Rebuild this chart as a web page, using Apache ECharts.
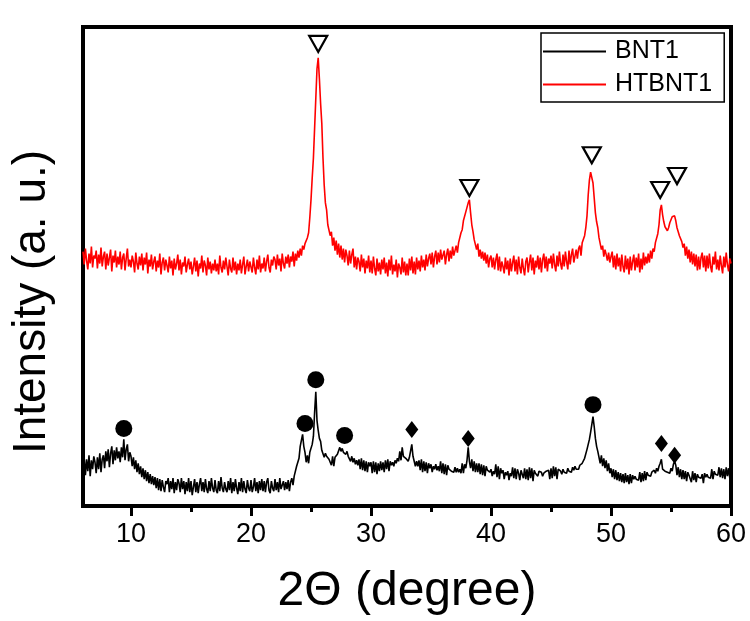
<!DOCTYPE html>
<html><head><meta charset="utf-8">
<script src="https://cdn.jsdelivr.net/npm/echarts@6/dist/echarts.min.js"></script>
<style>html,body{margin:0;padding:0;background:#fff}#c{width:750px;height:621px}</style>
</head><body><div id="c"></div>
<script>
// 2-theta sampling grid of the patterns
const angleStart = 6;
const angleStep = 0.1;

// HTBNT1 intensity (a.u.), one row per degree (6.0 ... 59.9), then 60.0
const htbnt1 = [
256,243,259,247,238,254,244,261,240,252,
249,257,239,253,244,260,241,251,256,238,
254,242,250,258,236,252,245,257,240,251,
243,256,238,250,254,237,249,259,241,248,
240,252,246,235,255,244,238,251,242,254,
237,250,243,255,234,248,241,253,238,246,
251,236,247,240,254,233,245,250,237,248,
242,235,251,239,247,232,249,238,244,253,
237,248,233,245,241,251,235,243,249,238,
246,233,241,250,236,247,231,244,239,252,
235,247,242,232,250,238,246,234,244,237,
248,236,244,233,252,240,235,247,238,250,
241,232,248,239,235,250,237,246,233,244,
237,248,234,243,251,233,241,248,236,246,
246,235,250,240,233,248,238,252,235,244,
239,250,236,246,253,240,235,248,242,251,
248,238,253,242,249,236,254,244,239,251,
244,253,240,251,246,256,241,254,247,257,
250,259,252,262,258,264,263,270,275,290,
308,330,350,380,410,440,451,430,405,385,
350,323,305,298,283,284,272,276,262,270,
257,267,253,264,250,262,248,259,245,258,
252,242,257,244,253,259,240,251,238,250,
246,236,253,240,249,234,247,239,252,235,
247,234,251,239,232,249,236,245,233,248,
238,250,234,245,231,248,237,252,233,243,
236,248,230,244,240,233,250,235,246,232,
244,232,249,237,251,234,246,233,250,238,
247,236,252,240,248,237,253,241,249,254,
243,255,240,251,257,243,255,245,258,248,
247,257,243,253,259,246,257,249,261,252,
254,262,255,265,266,275,278,287,288,296,
298,305,308,295,283,276,268,266,258,264,
251,258,249,256,247,255,244,253,240,249,
252,240,250,238,248,254,237,251,236,246,
241,234,250,238,247,232,249,236,245,252,
236,248,233,251,240,234,249,239,232,246,
250,235,245,253,237,250,233,247,240,252,
238,250,235,248,254,239,251,236,249,244,
252,239,254,243,236,252,241,256,244,238,
253,241,256,246,238,257,243,253,259,245,
246,258,249,259,262,252,265,264,272,280,
292,313,328,336,338,325,310,295,286,280,
270,268,258,262,251,258,253,247,255,245,
251,256,240,252,238,254,241,250,236,253,
241,235,252,238,249,233,251,237,246,253,
237,250,240,254,235,249,238,255,242,251,
244,254,245,257,249,259,256,265,264,274,
283,298,303,293,286,281,279,277,280,285,
288,291,293,292,287,280,276,272,270,266,
260,264,252,261,249,258,245,256,243,254,
241,253,237,251,238,250,255,240,252,236,
252,239,254,241,235,251,243,256,238,248,
237,252,242,234,251,240,255,243,236,249,
244
];

// BNT1 intensity (a.u.), same grid
const bnt1 = [
38,48,31,47,35,51,30,46,37,50,
44,33,49,37,53,34,47,51,38,55,
45,57,39,53,60,42,56,46,59,48,
55,44,59,49,67,46,57,62,45,54,
50,40,49,37,46,34,43,32,40,29,
38,27,36,25,34,23,32,22,30,21,
29,18,28,16,27,15,26,19,14,25,
22,28,14,25,17,28,13,24,16,27,
23,14,28,17,25,12,24,15,28,14,
25,11,19,27,14,24,13,22,28,15,
24,14,27,17,13,25,15,28,18,14,
26,16,13,25,15,29,18,14,24,17,
14,25,16,28,13,24,15,27,18,12,
24,15,28,14,25,17,13,26,18,15,
26,14,19,28,15,24,13,25,16,27,
15,25,14,24,28,16,13,25,18,15,
27,16,24,14,28,17,15,25,16,24,
17,26,15,24,28,21,30,32,40,44,
48,60,62,72,60,54,44,51,43,54,
53,62,70,94,115,86,76,68,65,56,
58,49,53,50,51,47,49,41,50,40,
49,47,52,51,59,55,58,54,56,52,
55,50,52,45,50,44,48,42,46,41,
47,37,48,36,46,35,45,34,44,40,
44,33,45,34,44,32,43,35,45,36,
44,34,46,37,47,35,45,41,44,40,
46,43,48,45,55,46,59,50,52,48,
50,45,49,47,62,50,49,40,45,40,
46,36,47,34,45,35,44,33,43,38,
42,34,40,37,42,36,40,35,45,33,
43,32,42,31,41,37,39,35,37,34,
39,34,38,34,37,33,43,33,42,38,
46,59,45,38,47,35,45,34,43,34,
43,32,42,31,41,30,40,36,38,34,
37,30,35,32,42,29,40,27,38,33,
36,27,34,31,35,26,33,30,39,28,
38,27,37,33,26,36,32,28,38,27,
37,26,39,28,38,25,36,33,34,30,
35,33,34,30,33,31,35,34,36,27,
38,28,40,30,39,27,37,35,35,32,
37,34,36,33,38,35,37,34,39,36,
40,37,39,37,41,39,43,42,48,50,
57,62,67,74,82,90,80,68,60,55,
53,43,51,40,48,38,46,35,43,33,
38,29,37,27,36,26,34,25,33,24,
32,23,33,24,31,22,32,23,31,27,
30,27,29,26,34,24,33,25,35,26,
34,31,33,30,34,32,36,33,38,35,
40,43,47,37,39,35,37,34,36,33,
38,35,42,45,41,31,39,29,37,27,
36,27,35,25,34,31,33,24,35,26,
33,24,32,29,31,28,32,23,33,29,
32,29,31,28,37,27,35,32,34,31,
39,29,38,28,37,27,39,30,38,28,
32
];

// Phase markers (position in 2θ, height in a.u.)
const anataseX = [25.6, 38.2, 48.4, 54.1, 55.5];
const anataseY = [465, 320, 353, 318, 332];
const circleX = [9.4, 24.5, 25.4, 27.8, 48.5];
const circleY = [78, 83, 127, 71, 102];
const diamondX = [33.4, 38.1, 54.2, 55.3];
const diamondY = [77, 68, 63, 51];

const xTicks = [10, 20, 30, 40, 50, 60];
const xMinorTicks = [15, 25, 35, 45, 55];
const seriesNames = ['BNT1', 'HTBNT1'];
const xTitle = '2\u0398 (degree)';
const yTitle = 'Intensity (a. u.)';

const FONT = "'Liberation Sans', Arial, sans-serif";
const toPairs = arr => arr.map((v, i) => [+(angleStart + i * angleStep).toFixed(1), v]);
const zipXY = (xs, ys) => xs.map((x, i) => [x, ys[i]]);

const chart = echarts.init(document.getElementById('c'), null, {renderer: 'canvas'});
chart.setOption({
  animation: false,
  backgroundColor: '#fff',
  grid: {left: 83, right: 19, top: 27, bottom: 112, show: true, borderColor: '#000', borderWidth: 4, backgroundColor: 'transparent'},
  legend: {
    data: seriesNames, orient: 'vertical', left: 541, top: 33,
    icon: 'rect', itemWidth: 63, itemHeight: 2, itemGap: 8, padding: [6, 12, 5, 2],
    borderColor: '#000', borderWidth: 1.5,
    textStyle: {fontFamily: FONT, fontSize: 25, color: '#000', padding: [0, 0, 0, 4]}
  },
  graphic: [{
    type: 'text', x: 32, y: 302, rotation: Math.PI / 2,
    style: {text: yTitle, font: '46px ' + FONT, fill: '#000', align: 'center', verticalAlign: 'middle',
            textAlign: 'center', textVerticalAlign: 'middle'}
  }],
  xAxis: [{
    type: 'value', min: 6, max: 60,
    name: xTitle, nameLocation: 'middle', nameGap: 62,
    nameTextStyle: {fontFamily: FONT, fontSize: 48, color: '#000'},
    axisLine: {show: true, lineStyle: {color: '#000', width: 4}},
    axisTick: {show: true, customValues: xTicks, length: 10, lineStyle: {color: '#000', width: 3}},
    axisLabel: {customValues: xTicks, fontFamily: FONT, fontSize: 27, color: '#000', margin: 15},
    splitLine: {show: false}
  }, {
    type: 'value', min: 6, max: 60, position: 'bottom',
    axisLine: {show: false},
    axisTick: {show: true, customValues: xMinorTicks, length: 6, lineStyle: {color: '#000', width: 3}},
    axisLabel: {show: false},
    splitLine: {show: false}
  }],
  yAxis: {
    type: 'value', min: 0, max: 482,
    axisLine: {show: false}, axisTick: {show: false}, axisLabel: {show: false}, splitLine: {show: false}
  },
  series: [
    {name: 'BNT1', type: 'line', data: toPairs(bnt1), showSymbol: false, symbol: 'none',
     lineStyle: {color: '#000', width: 1.6}, itemStyle: {color: '#000'}},
    {name: 'HTBNT1', type: 'line', data: toPairs(htbnt1), showSymbol: false, symbol: 'none',
     lineStyle: {color: '#ff0000', width: 1.6}, itemStyle: {color: '#ff0000'}},
    {name: 'anatase', type: 'scatter', data: zipXY(anataseX, anataseY), symbol: 'triangle', symbolRotate: 180,
     symbolSize: [18, 16], itemStyle: {color: '#fff', borderColor: '#000', borderWidth: 2.2, opacity: 1}, z: 5},
    {name: 'phaseA', type: 'scatter', data: zipXY(circleX, circleY), symbol: 'circle', symbolSize: 17,
     itemStyle: {color: '#000', opacity: 1}, z: 5},
    {name: 'phaseB', type: 'scatter', data: zipXY(diamondX, diamondY), symbol: 'diamond', symbolSize: [13, 17],
     itemStyle: {color: '#000', opacity: 1}, z: 5}
  ]
});
</script></body></html>
